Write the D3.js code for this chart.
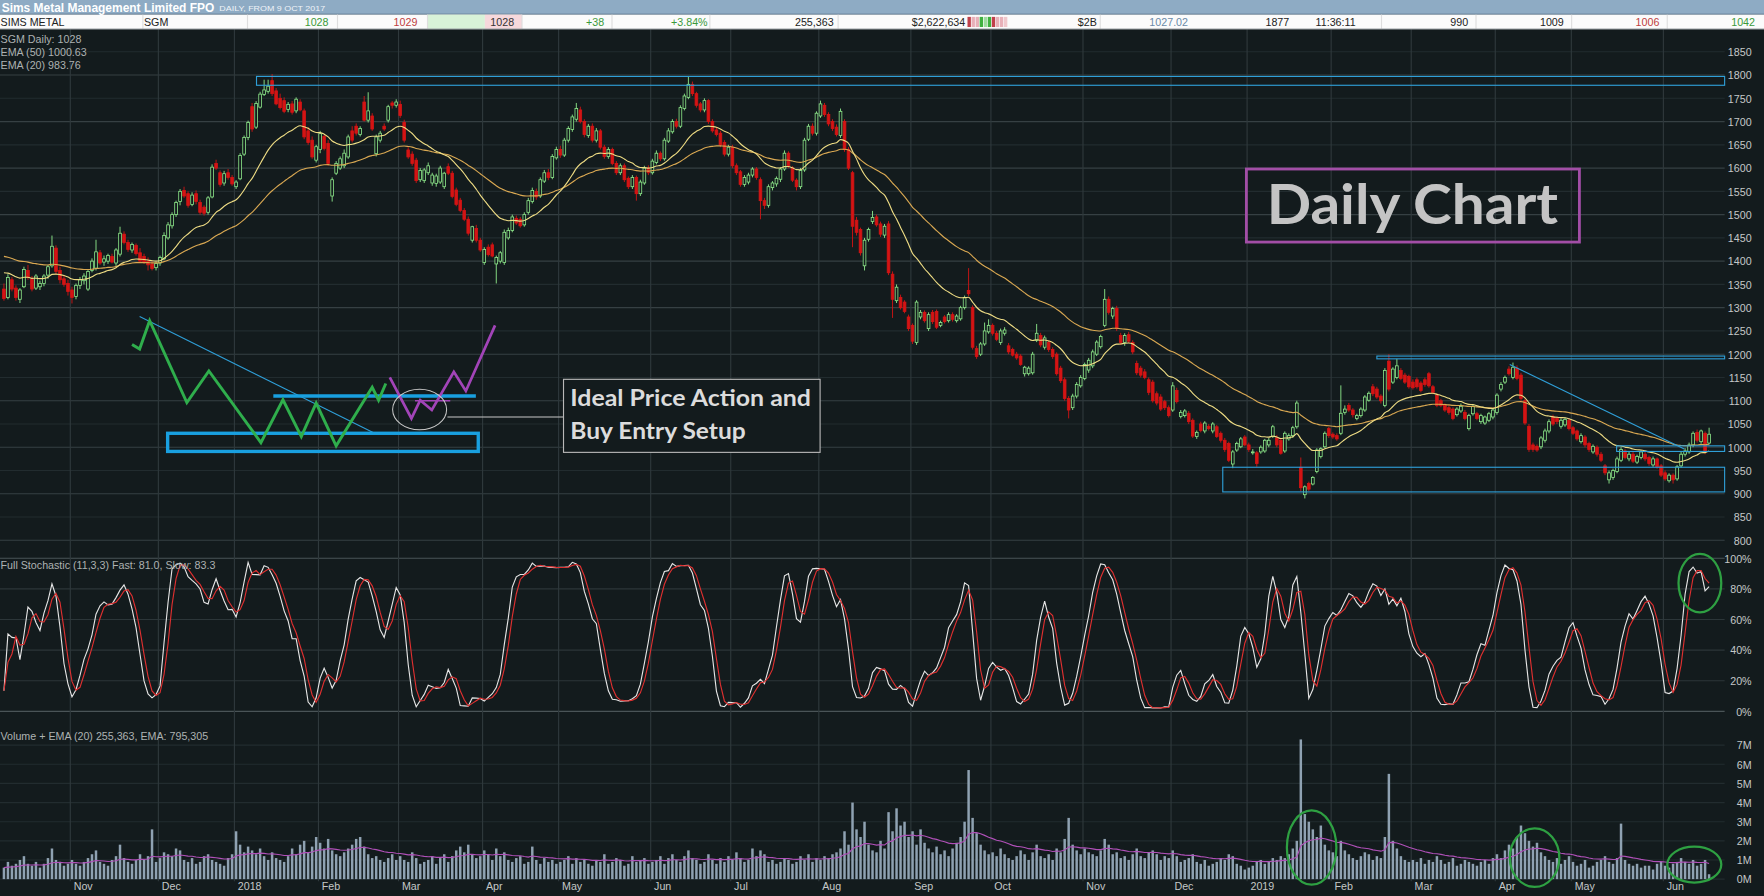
<!DOCTYPE html>
<html>
<head>
<meta charset="utf-8">
<script src="https://cdn.jsdelivr.net/npm/d3@7/dist/d3.min.js"></script>
<style>
  html, body { margin: 0; padding: 0; background: #131b1d; overflow: hidden; }
  text { font-family: "Liberation Sans", Arial, sans-serif; }
</style>
</head>
<body>
<div id="chart"></div>
<script>
// Daily candles [open, high, low, close], one row per ASX trading day from 9 Oct 2017
const ohlc = [
  // Oct 2017
  [1340,1352,1315,1320],[1322,1372,1318,1365],[1360,1366,1335,1340],[1342,1348,1315,1322],[1318,1342,1310,1338],
  [1345,1388,1342,1382],[1380,1392,1360,1365],[1362,1368,1335,1340],[1342,1372,1338,1368],[1345,1358,1338,1352],
  [1352,1372,1346,1368],[1370,1392,1362,1388],[1390,1455,1386,1432],[1428,1434,1372,1378],[1380,1388,1352,1360],
  [1362,1370,1345,1350],[1352,1360,1326,1335],
  // Nov
  [1338,1345,1309,1322],[1324,1352,1318,1348],[1348,1366,1340,1360],[1358,1374,1350,1368],[1340,1382,1336,1378],
  [1380,1406,1376,1400],[1385,1446,1380,1420],[1418,1424,1392,1396],[1398,1412,1390,1405],[1400,1416,1394,1412],
  [1410,1416,1395,1398],[1396,1428,1390,1424],[1415,1474,1410,1460],[1458,1464,1436,1440],[1440,1446,1420,1425],
  [1424,1440,1418,1436],[1434,1438,1412,1416],[1418,1428,1396,1400],[1410,1416,1394,1398],[1400,1408,1380,1392],
  [1394,1400,1380,1384],[1386,1398,1380,1395],
  // Dec
  [1396,1412,1390,1408],[1405,1462,1402,1455],[1450,1484,1446,1478],[1476,1505,1470,1500],[1500,1530,1495,1526],
  [1528,1555,1520,1550],[1552,1560,1536,1540],[1545,1550,1515,1520],[1522,1548,1518,1542],[1545,1552,1522,1528],
  [1526,1532,1500,1505],[1516,1520,1498,1503],[1505,1540,1500,1536],[1538,1608,1535,1602],[1610,1618,1596,1600],
  [1590,1595,1560,1565],[1568,1594,1562,1588],[1590,1598,1575,1580],[1580,1585,1562,1566],
  // Jan 2018
  [1560,1574,1555,1570],[1577,1632,1574,1627],[1630,1670,1626,1666],[1666,1702,1660,1698],[1732,1740,1678,1684],
  [1688,1744,1684,1739],[1731,1764,1728,1759],[1758,1790,1755,1768],[1765,1790,1760,1776],[1788,1802,1755,1760],
  [1766,1772,1735,1738],[1750,1760,1726,1730],[1745,1752,1718,1722],[1726,1742,1720,1737],[1738,1744,1715,1720],
  [1723,1752,1718,1748],[1742,1748,1722,1725],[1723,1728,1662,1667],[1680,1688,1650,1655],[1660,1668,1620,1624],
  [1617,1650,1612,1646],
  // Feb
  [1640,1680,1632,1674],[1668,1672,1638,1642],[1653,1660,1605,1610],[1540,1580,1528,1575],[1589,1615,1585,1610],
  [1600,1625,1596,1620],[1605,1640,1600,1632],[1624,1672,1620,1667],[1680,1690,1655,1660],[1690,1696,1670,1675],
  [1672,1690,1668,1685],[1742,1755,1700,1703],[1703,1763,1698,1723],[1712,1718,1680,1684],[1631,1672,1625,1667],
  [1660,1680,1655,1675],[1690,1696,1680,1684],[1703,1736,1698,1732],[1740,1744,1728,1735],[1735,1748,1730,1742],
  // Mar
  [1737,1745,1708,1713],[1698,1704,1655,1660],[1639,1645,1620,1624],[1630,1636,1605,1610],[1617,1622,1568,1573],
  [1575,1600,1570,1595],[1573,1600,1568,1596],[1590,1612,1585,1605],[1568,1590,1562,1585],[1567,1588,1560,1583],
  [1570,1605,1566,1600],[1560,1592,1555,1589],[1603,1610,1585,1589],[1589,1594,1535,1539],[1553,1558,1518,1522],
  [1531,1536,1505,1509],[1509,1514,1486,1490],[1490,1496,1455,1460],[1445,1476,1440,1474],[1470,1478,1440,1445],
  [1445,1450,1420,1424],
  // Apr
  [1397,1430,1392,1425],[1430,1436,1410,1414],[1435,1440,1408,1411],[1394,1412,1352,1408],[1400,1422,1395,1418],
  [1397,1468,1392,1462],[1450,1472,1446,1466],[1466,1500,1462,1495],[1492,1498,1478,1482],[1490,1495,1472,1476],
  [1478,1505,1474,1500],[1505,1536,1500,1530],[1528,1558,1524,1552],[1550,1556,1532,1538],[1540,1580,1536,1575],
  [1572,1596,1568,1590],[1590,1598,1574,1580],[1580,1630,1576,1625],[1622,1646,1618,1640],
  // May
  [1640,1648,1622,1628],[1628,1665,1624,1660],[1660,1690,1655,1685],[1683,1715,1678,1710],[1705,1740,1700,1728],
  [1725,1732,1696,1700],[1700,1705,1666,1672],[1670,1695,1665,1690],[1690,1696,1655,1660],[1660,1686,1655,1680],
  [1680,1684,1640,1645],[1645,1650,1620,1625],[1625,1645,1620,1640],[1640,1644,1606,1610],[1610,1615,1585,1590],
  [1590,1610,1585,1605],[1605,1610,1570,1575],[1578,1582,1555,1560],[1560,1585,1555,1580],[1580,1584,1530,1545],
  [1545,1575,1540,1570],[1568,1605,1564,1600],[1600,1606,1585,1590],
  // Jun
  [1590,1620,1586,1615],[1612,1638,1608,1632],[1632,1636,1615,1620],[1620,1665,1616,1660],[1658,1686,1654,1680],
  [1678,1705,1674,1700],[1700,1706,1685,1690],[1690,1735,1686,1730],[1728,1760,1724,1755],[1752,1798,1748,1780],
  [1780,1786,1755,1760],[1760,1764,1730,1735],[1738,1742,1720,1725],[1725,1750,1720,1745],[1745,1748,1695,1700],
  [1700,1705,1676,1680],[1682,1688,1668,1672],[1675,1680,1645,1650],[1655,1660,1625,1630],[1630,1650,1625,1645],
  // Jul
  [1645,1650,1600,1605],[1605,1610,1585,1590],[1592,1596,1560,1565],[1565,1585,1560,1580],[1570,1590,1565,1585],
  [1585,1602,1580,1598],[1598,1602,1575,1580],[1575,1580,1490,1530],[1530,1536,1512,1520],[1520,1565,1515,1560],
  [1558,1572,1552,1568],[1566,1582,1560,1578],[1576,1602,1570,1598],[1598,1638,1594,1632],[1632,1636,1600,1605],
  [1600,1604,1570,1574],[1574,1578,1552,1560],[1560,1600,1555,1595],[1596,1665,1592,1660],[1662,1695,1658,1690],
  [1690,1696,1670,1675],[1675,1722,1670,1718],
  // Aug
  [1712,1745,1708,1738],[1735,1740,1710,1715],[1715,1720,1690,1695],[1700,1705,1680,1685],[1688,1694,1668,1672],
  [1670,1728,1665,1722],[1700,1705,1635,1640],[1640,1645,1596,1600],[1590,1594,1430,1475],[1488,1495,1455,1462],
  [1468,1472,1412,1418],[1390,1450,1380,1445],[1447,1472,1442,1468],[1485,1508,1480,1494],[1495,1500,1474,1478],
  [1480,1485,1452,1458],[1456,1480,1450,1475],[1480,1486,1370,1375],[1372,1378,1278,1318],[1315,1350,1310,1344],
  [1322,1328,1296,1300],[1312,1316,1288,1292],[1280,1285,1250,1255],
  // Sep
  [1262,1266,1222,1228],[1225,1316,1220,1312],[1280,1295,1275,1290],[1290,1294,1268,1272],[1255,1290,1250,1285],
  [1290,1295,1265,1270],[1292,1296,1254,1258],[1262,1272,1258,1268],[1280,1284,1266,1270],[1272,1290,1268,1285],
  [1285,1290,1270,1275],[1272,1286,1268,1282],[1276,1304,1272,1300],[1300,1326,1296,1322],[1337,1385,1325,1330],
  [1300,1305,1210,1215],[1212,1218,1190,1195],[1200,1226,1196,1222],[1222,1268,1218,1250],[1248,1275,1244,1262],
  // Oct
  [1262,1266,1240,1245],[1245,1250,1228,1232],[1225,1255,1220,1250],[1245,1258,1240,1252],[1218,1224,1200,1205],
  [1210,1214,1195,1198],[1200,1205,1188,1192],[1196,1200,1175,1178],[1158,1175,1152,1172],[1158,1174,1154,1170],
  [1160,1205,1156,1200],[1230,1265,1226,1245],[1240,1246,1215,1220],[1215,1240,1210,1235],[1225,1230,1205,1210],
  [1210,1215,1190,1195],[1200,1204,1154,1158],[1170,1175,1138,1143],[1145,1150,1100,1105],[1105,1110,1062,1080],
  [1085,1115,1080,1110],[1110,1140,1105,1135],[1132,1155,1128,1150],
  // Nov
  [1148,1182,1144,1178],[1166,1192,1160,1187],[1175,1210,1170,1205],[1200,1230,1196,1226],[1216,1242,1212,1238],
  [1262,1340,1258,1318],[1318,1324,1285,1290],[1282,1302,1276,1298],[1298,1304,1250,1255],[1240,1246,1220,1225],
  [1225,1245,1218,1240],[1242,1248,1224,1228],[1225,1230,1200,1205],[1180,1186,1155,1160],[1170,1175,1150,1155],
  [1162,1168,1146,1150],[1145,1150,1112,1118],[1140,1145,1096,1100],[1115,1120,1090,1095],[1108,1114,1078,1082],
  [1098,1102,1080,1085],[1085,1090,1064,1068],
  // Dec
  [1080,1140,1076,1132],[1122,1128,1094,1098],[1066,1080,1062,1075],[1068,1082,1064,1078],[1073,1078,1050,1055],
  [1058,1062,1020,1024],[1023,1036,1018,1032],[1050,1055,1032,1036],[1035,1056,1030,1052],[1045,1050,1036,1040],
  [1035,1054,1030,1050],[1044,1048,1020,1023],[1030,1034,1010,1015],[1015,1020,990,995],[1008,1012,968,972],
  [964,994,955,990],[994,1012,990,1008],[1001,1022,998,1018],[1022,1026,1002,1005],
  // Jan 2019
  [1005,1010,990,995],[988,996,984,990],[988,992,958,965],[990,1004,986,1000],[992,1018,988,1015],
  [1005,1020,1000,1015],[1023,1048,1020,1044],[1020,1026,1000,1005],[1015,1018,984,987],[992,1034,988,1030],
  [1018,1030,1014,1025],[1025,1046,1020,1042],[1044,1100,1040,1095],[957,978,905,913],[898,918,890,915],
  [922,926,906,910],[921,938,918,935],[948,998,944,994],[980,1000,976,997],[1001,1034,998,1030],
  [1040,1044,1020,1025],
  // Feb
  [1028,1032,1018,1022],[1025,1030,1014,1018],[1030,1133,1026,1073],[1075,1090,1070,1082],[1090,1095,1076,1080],
  [1080,1084,1064,1070],[1062,1072,1058,1068],[1068,1086,1064,1082],[1080,1112,1076,1108],[1101,1120,1098,1116],
  [1130,1136,1110,1115],[1125,1130,1104,1108],[1110,1114,1094,1100],[1090,1170,1086,1165],[1185,1200,1120,1125],
  [1140,1172,1136,1168],[1150,1190,1146,1175],[1165,1170,1144,1148],[1155,1160,1136,1140],[1152,1156,1126,1130],
  // Mar
  [1140,1146,1124,1128],[1145,1150,1126,1130],[1138,1142,1118,1122],[1145,1150,1130,1135],[1158,1162,1128,1132],
  [1130,1134,1114,1118],[1112,1116,1086,1090],[1100,1104,1086,1090],[1090,1094,1076,1080],[1085,1090,1070,1075],
  [1082,1086,1058,1062],[1070,1086,1066,1082],[1078,1094,1074,1088],[1075,1080,1058,1062],[1040,1072,1036,1068],
  [1072,1092,1068,1088],[1072,1076,1058,1062],[1055,1072,1050,1068],[1052,1068,1048,1065],[1058,1076,1054,1072],
  [1065,1084,1060,1080],
  // Apr
  [1075,1116,1070,1112],[1125,1140,1120,1135],[1140,1154,1136,1150],[1168,1174,1154,1158],[1150,1182,1146,1172],
  [1170,1176,1144,1148],[1155,1160,1100,1105],[1100,1104,1048,1052],[1045,1050,990,995],[1005,1010,990,995],
  [1002,1006,990,994],[1001,1024,996,1020],[1015,1040,1010,1035],[1035,1060,1030,1055],[1065,1070,1046,1050],
  [1062,1066,1050,1055],[1045,1062,1040,1058],[1048,1064,1044,1060],[1058,1062,1036,1040],
  // May
  [1042,1046,1026,1030],[1035,1038,1014,1018],[1012,1030,1008,1025],[1022,1026,1000,1005],[1008,1012,990,995],
  [990,1006,986,1002],[1000,1004,980,985],[985,990,968,972],[960,964,940,945],[930,950,922,945],
  [935,954,930,950],[948,980,944,975],[972,1000,968,995],[992,996,974,978],[975,990,970,985],
  [985,990,966,970],[968,984,964,980],[978,994,974,990],[985,990,970,975],[978,982,960,965],
  [962,980,958,975],[975,978,954,958],[960,964,936,940],
  // Jun
  [945,950,928,932],[928,944,924,940],[940,944,922,930],[932,962,928,958],[960,990,956,985],
  [985,998,980,992],[990,1010,986,1005],[1005,1034,1000,1030],[1032,1038,1010,1015],[1012,1038,1008,1035],
  [1030,1034,985,990],[1009,1042,1006,1028]
];

// Daily volume, millions of shares
const volumeM = [
  0.6,0.9,0.7,0.8,1.0,1.2,0.8,0.7,0.9,0.6,0.8,1.1,1.6,1.0,0.9,0.7,0.8,
  1.0,0.8,0.7,0.9,1.1,1.3,1.5,0.9,0.8,0.7,1.0,1.2,1.8,1.1,0.9,0.8,1.0,1.3,1.0,1.2,2.6,0.9,
  1.1,1.4,1.3,1.2,1.6,1.5,1.0,0.9,1.1,0.8,0.9,1.2,1.3,1.0,0.9,0.8,0.7,1.1,1.3,
  2.5,1.8,1.4,1.7,1.5,1.3,1.6,1.2,1.0,1.4,1.1,1.0,0.9,1.2,1.6,1.3,1.8,2.0,1.4,1.7,2.2,
  1.9,1.6,2.1,1.5,1.3,1.2,1.4,1.6,1.8,2.1,2.2,1.7,1.3,1.1,1.2,1.0,0.9,1.1,1.3,1.0,
  1.2,1.0,0.9,1.4,1.1,0.8,0.9,1.0,1.2,0.8,1.1,1.3,0.9,1.2,1.5,1.7,1.4,1.8,1.3,1.1,1.2,
  1.5,1.3,1.0,1.6,1.2,1.4,1.0,0.9,1.1,1.2,0.8,0.9,1.7,1.0,0.8,1.1,0.9,1.0,0.8,
  0.9,1.0,1.2,0.8,1.1,0.9,1.0,0.8,0.7,1.0,0.9,1.3,0.8,0.9,1.1,1.0,0.7,0.8,1.2,0.9,1.0,1.1,0.8,
  0.9,1.0,1.2,0.8,1.1,1.3,1.0,0.9,1.2,1.5,1.1,1.0,0.8,0.9,1.3,1.0,0.8,1.1,0.9,1.2,
  1.0,1.4,1.1,0.9,1.0,1.6,1.2,1.5,1.3,0.9,1.0,0.8,0.9,1.1,1.0,0.8,0.9,1.2,1.0,1.3,0.9,1.1,
  1.0,1.2,1.1,1.3,1.4,1.6,2.5,1.8,4.0,2.6,2.2,3.0,1.8,1.5,1.4,2.0,1.6,3.5,2.5,3.7,2.8,3.0,2.2,
  2.5,1.8,2.6,1.9,1.6,1.4,1.7,1.3,1.5,1.2,1.6,1.9,2.2,3.0,5.7,3.2,2.4,1.8,1.5,1.3,
  1.4,1.2,1.6,1.3,1.1,1.0,1.2,1.5,1.3,1.0,1.4,1.8,1.2,1.1,1.3,1.0,1.6,1.4,2.1,3.2,1.8,1.5,1.3,
  1.6,1.4,1.3,1.2,1.5,2.1,1.8,1.3,1.4,1.1,1.2,1.0,1.3,1.6,1.2,1.1,1.4,1.5,1.3,1.0,1.2,1.1,
  1.5,1.2,0.9,1.0,1.1,1.3,0.9,0.8,1.0,0.7,0.8,0.9,1.1,1.0,1.3,1.2,0.8,0.7,0.5,
  0.6,0.7,0.9,1.0,0.8,0.9,1.1,1.0,1.2,1.1,1.3,1.6,2.0,7.3,3.4,3.0,2.6,2.2,2.8,1.8,1.5,
  1.4,1.2,2.0,1.5,1.3,1.1,1.0,1.2,1.4,1.3,1.0,1.2,1.1,2.2,5.5,2.0,1.6,1.2,1.0,0.9,
  1.0,0.9,1.1,0.8,1.0,0.9,1.2,1.0,0.8,0.9,1.1,0.7,0.8,1.0,0.9,0.8,0.7,0.9,1.0,0.8,1.1,
  1.3,1.1,1.5,1.8,1.6,2.2,2.8,2.4,2.0,1.7,1.9,1.4,1.2,1.0,0.9,1.1,0.8,1.0,1.2,
  0.9,0.7,0.8,1.0,0.6,0.7,0.9,1.0,1.2,0.9,0.8,1.1,2.9,1.0,0.8,0.7,0.8,0.6,0.7,0.7,0.5,0.8,0.9,
  0.7,0.6,0.8,0.9,1.1,0.9,0.8,1.0,0.7,0.8,1.0,0.255
];

// moving-average levels already in place at the first visible day
const emaStart20 = 1381;
const emaStart50 = 1414;

// first trading day of each month (index into ohlc) and its label
const monthTickIdx = [17,39,58,79,99,120,139,162,182,204,227,247,270,292,311,332,352,373,392,415];
const monthLabels = ["Nov","Dec","2018","Feb","Mar","Apr","May","Jun","Jul","Aug","Sep","Oct","Nov","Dec","2019","Feb","Mar","Apr","May","Jun"];

const priceTicks = [800,850,900,950,1000,1050,1100,1150,1200,1250,1300,1350,1400,1450,1500,1550,1600,1650,1700,1750,1800,1850];
const stochTicks = [0,20,40,60,80,100];
const volTicks = [0,1,2,3,4,5,6,7];

// quote strip: [text, x, anchor, colour]
const quoteCells = [
  ["SIMS METAL", 0.5, "start", "#222"], ["SGM", 128, "start", "#222"],
  ["1028", 292, "end", "#3a9a3a"], ["1029", 371, "end", "#c04040"], ["1028", 457, "end", "#333"],
  ["+38", 537, "end", "#3a9a3a"], ["+3.84%", 629, "end", "#3a9a3a"], ["255,363", 741, "end", "#222"],
  ["$2,622,634", 858, "end", "#222"], ["$2B", 975, "end", "#222"], ["1027.02", 1056, "end", "#6a8aa8"],
  ["1877", 1146, "end", "#222"], ["11:36:11", 1205, "end", "#222"], ["990", 1305, "end", "#222"],
  ["1009", 1390, "end", "#222"], ["1006", 1475, "end", "#c04040"], ["1042", 1560, "end", "#3a9a3a"]
];
const quoteSeps = [127, 220, 300, 380, 464, 544, 631, 745, 978, 1228, 1312, 1397, 1482];
const tradeBars = ["#c0404a","#e8b0b8","#e8b0b8","#40b040","#a0dca0","#40b040","#c0404a","#e8b0b8","#e8b0b8","#f0c8cc"];

// hand-drawn setup sketch, in [candle index, price]
const sketchGreen = [[32.0,1221],[33.9,1211],[36.4,1272],[45.7,1096],[51.2,1164],[64.2,1010],[69.7,1102],
  [74.3,1023],[78.0,1095],[83.0,1003],[92.0,1129],[93.6,1101],[95.4,1137]];
const sketchPurple = [[96.4,1150],[101.8,1062],[104.0,1101],[106.9,1080],[112.4,1162],[115.4,1121],[122.7,1262]];

// --- layout (drawn in 1568x796 units, stretched to the 1764x896 window)
const W = 1568, H = 796, plotRight = 1533;

const svg = d3.select("#chart").append("svg")
  .attr("width", 1764)
  .attr("height", 896)
  .attr("viewBox", `0 0 ${W} ${H}`)
  .attr("preserveAspectRatio", "none")
  .style("display", "block");

svg.append("rect").attr("width", W).attr("height", H).attr("fill", "#131b1d");

const x = d3.scaleLinear().domain([0, 426]).range([3.5, 1519.2]);
const yP = d3.scaleLinear().domain([800, 1850]).range([480, 46]);
const yS = d3.scaleLinear().domain([0, 100]).range([632, 496]);
const yV = d3.scaleLinear().domain([0, 7]).range([781, 662]);

// grid
const grid = svg.append("g");
priceTicks.forEach(p => {
  grid.append("line").attr("x1", 0).attr("x2", plotRight).attr("y1", yP(p)).attr("y2", yP(p))
    .attr("stroke", p % 100 === 0 ? "#364043" : "#222c2f").attr("stroke-width", 1);
});
stochTicks.forEach(s => {
  grid.append("line").attr("x1", 0).attr("x2", plotRight).attr("y1", yS(s)).attr("y2", yS(s))
    .attr("stroke", (s === 0 || s === 100) ? "#4a5457" : "#2c3639").attr("stroke-width", 1);
});
volTicks.forEach(v => {
  grid.append("line").attr("x1", 0).attr("x2", plotRight).attr("y1", yV(v)).attr("y2", yV(v))
    .attr("stroke", "#222c2f").attr("stroke-width", 1);
});
monthTickIdx.forEach(i => {
  grid.append("line").attr("x1", x(i) - 1.5).attr("x2", x(i) - 1.5).attr("y1", 26).attr("y2", 783)
    .attr("stroke", "#2f393c").attr("stroke-width", 1);
});

// right-hand axes
function rightAxis(scale, ticks, fmt) {
  const g = svg.append("g").attr("transform", `translate(1557,0)`)
    .call(d3.axisLeft(scale).tickValues(ticks).tickSize(0).tickPadding(0).tickFormat(fmt));
  g.select(".domain").remove();
  g.selectAll("text").attr("fill", "#c4c8c8").style("font-size", "9.5px")
    .style("font-family", "'Liberation Sans', Arial, sans-serif").attr("dy", "0.35em");
}
rightAxis(yP, priceTicks, d => d);
rightAxis(yS, stochTicks, d => d + "%");
rightAxis(yV, volTicks, d => d + "M");

// month axis
const mx = svg.append("g").attr("transform", "translate(0,783)")
  .call(d3.axisBottom(x).tickValues(monthTickIdx).tickSize(0).tickPadding(0)
    .tickFormat((d, k) => monthLabels[k]));
mx.select(".domain").remove();
mx.selectAll("text").attr("fill", "#c4c8c8").style("font-size", "9.5px").attr("text-anchor", "start")
  .attr("dx", 1).attr("dy", "0.85em").style("font-family", "'Liberation Sans', Arial, sans-serif");

// --- indicators
const closes = ohlc.map(d => d[3]);
function ema(vals, n, start) {
  const k = 2 / (n + 1);
  let e = start === undefined ? vals[0] : start;
  return vals.map((v, i) => (i === 0 && start === undefined ? e : (e = v * k + e * (1 - k))));
}
const ema20 = ema(closes, 20, emaStart20);
const ema50 = ema(closes, 50, emaStart50);

const rawK = ohlc.map((d, i) => {
  const w = ohlc.slice(Math.max(0, i - 10), i + 1);
  const hh = d3.max(w, r => r[1]), ll = d3.min(w, r => r[2]);
  return hh === ll ? 50 : (d[3] - ll) / (hh - ll) * 100;
});
const sma = (a, n) => a.map((v, i) => d3.mean(a.slice(Math.max(0, i - n + 1), i + 1)));
const fastK = sma(rawK, 3);
const slowK = sma(fastK, 3);
const volEma = ema(volumeM, 20);

// --- volume
svg.append("g").selectAll("rect").data(volumeM).enter().append("rect")
  .attr("x", (d, i) => x(i) - 1.1)
  .attr("width", 2.2)
  .attr("y", d => yV(d))
  .attr("height", d => yV(0) - yV(d))
  .attr("fill", "#8fa2b2");

svg.append("path").datum(volEma)
  .attr("fill", "none").attr("stroke", "#b050b8").attr("stroke-width", 1)
  .attr("d", d3.line().x((d, i) => x(i)).y(d => yV(d)));

// --- stochastic
const stLine = d3.line().x((d, i) => x(i)).y(d => yS(d));
svg.append("path").datum(fastK).attr("fill", "none").attr("stroke", "#e6e6e6").attr("stroke-width", 1).attr("d", stLine);
svg.append("path").datum(slowK).attr("fill", "none").attr("stroke", "#e03030").attr("stroke-width", 1).attr("d", stLine);

// --- candles
const up = "#90ec8c", down = "#d41414";
const candles = svg.append("g").selectAll("g").data(ohlc).enter().append("g");
candles.append("line")
  .attr("x1", (d, i) => x(i)).attr("x2", (d, i) => x(i))
  .attr("y1", d => yP(d[1])).attr("y2", d => yP(d[2]))
  .attr("stroke", d => d[3] >= d[0] ? up : down).attr("stroke-width", 0.8);
candles.append("rect")
  .attr("x", (d, i) => x(i) - 1.2)
  .attr("width", 2.4)
  .attr("y", d => yP(Math.max(d[0], d[3])))
  .attr("height", d => Math.max(0.8, Math.abs(yP(d[0]) - yP(d[3]))))
  .attr("fill", d => d[3] >= d[0] ? "#131b1d" : down)
  .attr("stroke", d => d[3] >= d[0] ? up : down)
  .attr("stroke-width", 0.7);

// moving averages
const pLine = d3.line().x((d, i) => x(i)).y(d => yP(d)).curve(d3.curveMonotoneX);
svg.append("path").datum(ema50).attr("fill", "none").attr("stroke", "#d9a852").attr("stroke-width", 1).attr("d", pLine);
svg.append("path").datum(ema20).attr("fill", "none").attr("stroke", "#eedc84").attr("stroke-width", 1).attr("d", pLine);

// --- annotations on the price panel
const ann = svg.append("g");
const boxP = (i0, i1, p0, p1) => ({ x: x(i0), y: yP(p1), w: (i1 === null ? plotRight : x(i1)) - x(i0), h: yP(p0) - yP(p1) });
function blueBox(i0, i1, p0, p1, sw, col) {
  const b = boxP(i0, i1, p0, p1);
  ann.append("rect").attr("x", b.x).attr("y", b.y).attr("width", b.w).attr("height", b.h)
    .attr("fill", "none").attr("stroke", col || "#2f9fd8").attr("stroke-width", sw || 1);
}
blueBox(63.1, null, 1778, 1797);
blueBox(343, null, 1190, 1196);
blueBox(304.5, null, 904, 957);
blueBox(402.9, null, 991, 1003);
ann.append("line").attr("x1", x(376.2)).attr("y1", yP(1178)).attr("x2", x(419.8)).attr("y2", yP(996))
  .attr("stroke", "#2f9fd8").attr("stroke-width", 1);

// sketch
ann.append("line").attr("x1", x(33.9)).attr("y1", yP(1281)).attr("x2", x(92.6)).attr("y2", yP(1030))
  .attr("stroke", "#2f9fd8").attr("stroke-width", 0.9);
blueBox(40.9, 118.5, 991, 1030, 3, "#19a0e0");
ann.append("line").attr("x1", x(67.3)).attr("x2", x(117.9)).attr("y1", yP(1110)).attr("y2", yP(1110))
  .attr("stroke", "#19a0e0").attr("stroke-width", 3.2);
const sk = d3.line().x(d => x(d[0])).y(d => yP(d[1]));
ann.append("path").datum(sketchGreen).attr("d", sk).attr("fill", "none")
  .attr("stroke", "#2fae4c").attr("stroke-width", 2.6).attr("stroke-linejoin", "miter");
ann.append("line").attr("x1", x(102.7)).attr("x2", x(111.5)).attr("y1", yP(1100)).attr("y2", yP(1100))
  .attr("stroke", "#a244b8").attr("stroke-width", 1.5);
ann.append("path").datum(sketchPurple).attr("d", sk).attr("fill", "none")
  .attr("stroke", "#a244b8").attr("stroke-width", 2.4);
ann.append("ellipse").attr("cx", x(103.85)).attr("cy", yP(1081)).attr("rx", 24).attr("ry", 18)
  .attr("fill", "none").attr("stroke", "#c8c8c8").attr("stroke-width", 0.9);
ann.append("line").attr("x1", x(110.8)).attr("x2", x(139.8)).attr("y1", yP(1065)).attr("y2", yP(1065))
  .attr("stroke", "#c8c8c8").attr("stroke-width", 0.9);

// "Ideal Price Action" call-out
const ib = boxP(139.8, 203.9, 989, 1146);
ann.append("rect").attr("x", ib.x).attr("y", ib.y).attr("width", ib.w).attr("height", ib.h)
  .attr("fill", "#131b1d").attr("stroke", "#b8b8b8").attr("stroke-width", 1);
ann.append("text").attr("x", ib.x + 6).attr("y", ib.y + 24).text("Ideal Price Action and")
  .attr("fill", "#dcdcdc").style("font-family", "Lato, 'Open Sans', sans-serif").style("font-weight", "bold")
  .style("font-size", "20px").attr("textLength", 214).attr("lengthAdjust", "spacingAndGlyphs");
ann.append("text").attr("x", ib.x + 6).attr("y", ib.y + 53).text("Buy Entry Setup")
  .attr("fill", "#dcdcdc").style("font-family", "Lato, 'Open Sans', sans-serif").style("font-weight", "bold")
  .style("font-size", "20px").attr("textLength", 156).attr("lengthAdjust", "spacingAndGlyphs");

// "Daily Chart" label
const db = boxP(310.4, 393.6, 1441, 1598);
ann.append("rect").attr("x", db.x).attr("y", db.y).attr("width", db.w).attr("height", db.h)
  .attr("fill", "none").attr("stroke", "#a24ea6").attr("stroke-width", 2.5);
ann.append("text").attr("x", db.x + 18).attr("y", db.y + 49).text("Daily Chart")
  .attr("fill", "#c4c4c4").style("font-family", "Lato, 'Open Sans', sans-serif").style("font-weight", "bold")
  .style("font-size", "49px").attr("textLength", 259).attr("lengthAdjust", "spacingAndGlyphs");

// green rings on volume and stochastic
const ring = (i, yv, rx, ry) => ann.append("ellipse").attr("cx", x(i)).attr("cy", yv).attr("rx", rx).attr("ry", ry)
  .attr("fill", "none").attr("stroke", "#2ea042").attr("stroke-width", 2);
ring(326.7, yV(1.65), 22, 33);
ring(382.4, yV(1.12), 22, 26);
ring(422.3, yV(0.76), 24, 16);
ring(423.7, yS(83.8), 19, 26);

// --- panel captions
const cap = (t, yy) => svg.append("text").attr("x", 0.5).attr("y", yy).text(t)
  .attr("fill", "#adb2b2").style("font-size", "9.5px");
cap("SGM Daily: 1028", 38);
cap("EMA (50) 1000.63", 50);
cap("EMA (20) 983.76", 61.5);
cap("Full Stochastic (11,3,3) Fast: 81.0, Slow: 83.3", 505.5);
cap("Volume + EMA (20) 255,363, EMA: 795,305", 657.5);

// --- header bar and quote strip
svg.append("rect").attr("x", 0).attr("y", 0).attr("width", W).attr("height", 12.6).attr("fill", "#8eabc4");
svg.append("line").attr("x1", 0).attr("x2", W).attr("y1", 12.6).attr("y2", 12.6).attr("stroke", "#6f8aa2");
svg.append("text").attr("x", 1.5).attr("y", 10.6).text("Sims Metal Management Limited FPO")
  .attr("fill", "#ffffff").style("font-weight", "bold").style("font-size", "11px")
  .attr("textLength", 189).attr("lengthAdjust", "spacingAndGlyphs");
svg.append("text").attr("x", 195).attr("y", 10.2).text("DAILY, FROM 9 OCT 2017")
  .attr("fill", "#eef3f8").style("font-size", "7px").attr("textLength", 94).attr("lengthAdjust", "spacingAndGlyphs");

svg.append("rect").attr("x", 0).attr("y", 13).attr("width", W).attr("height", 12.8).attr("fill", "#fbfbfb");
svg.append("rect").attr("x", 380).attr("y", 13).attr("width", 51).attr("height", 12.8).attr("fill", "#d8f2d8");
svg.append("rect").attr("x", 431).attr("y", 13).attr("width", 33).attr("height", 12.8).attr("fill", "#f6d8dc");
quoteSeps.forEach(s => svg.append("line").attr("x1", s).attr("x2", s).attr("y1", 13).attr("y2", 25.8)
  .attr("stroke", "#dedede"));
svg.append("line").attr("x1", 0).attr("x2", W).attr("y1", 25.8).attr("y2", 25.8).attr("stroke", "#9aa0a4");
tradeBars.forEach((c, k) => svg.append("rect").attr("x", 860 + k * 3.6).attr("y", 15).attr("width", 3)
  .attr("height", 9).attr("fill", c));
quoteCells.forEach(q => svg.append("text").attr("x", q[1]).attr("y", 23).text(q[0])
  .attr("text-anchor", q[2]).attr("fill", q[3]).style("font-size", "9.5px"));
</script>
</body>
</html>
